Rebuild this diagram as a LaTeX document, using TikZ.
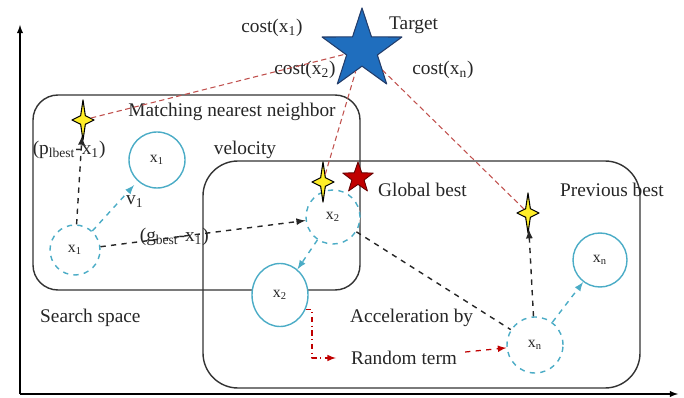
\documentclass[tikz,border=0pt]{standalone}
\usepackage{fontspec}
\setmainfont{Liberation Serif}
\usetikzlibrary{shapes.geometric,calc,positioning}
\definecolor{aqua}{RGB}{75,172,198}
\definecolor{costred}{RGB}{192,80,77}
\definecolor{darkred}{RGB}{192,0,0}
\definecolor{starblue}{RGB}{31,110,190}
\definecolor{navy}{RGB}{35,60,105}
\definecolor{sparkyellow}{RGB}{255,238,40}

\begin{document}
\begin{tikzpicture}[x=0.2mm, y=-0.2mm, >=latex, line join=round,
	font=\fontsize{11}{13}\selectfont, text=black!85,
	box/.style={draw=black!80, line width=0.8pt},
	particle/.style={circle, draw=aqua, line width=0.8pt, fill=white, inner sep=0pt, minimum size=11mm, font=\fontsize{9}{10}\selectfont},
	ghost/.style={particle, dashed},
	sparkle/.style={star, star points=4, star point ratio=3.3, draw=black, fill=sparkyellow, line width=0.6pt, minimum size=8mm, inner sep=0pt},
	blackdash/.style={dashed, line width=0.8pt, black!85},
	aquadash/.style={dashed, line width=0.8pt, aqua},
	costline/.style={costred, line width=0.6pt, dash pattern=on 3pt off 2pt},
	randline/.style={darkred, line width=0.7pt}]
	\useasboundingbox (0,0) rectangle (684,398);
	% axes
	\draw[->, line width=0.6pt] (20,394) -- (20,25);
	\draw[->, line width=0.6pt] (20,394) -- (678,394);
	% the two regions
	\draw[box, rounded corners=5mm] (33,95) rectangle (360,290);
	\draw[box, rounded corners=7mm] (203,161) rectangle (640,388);
	% particles
	\node[ghost, minimum size=10mm] (x1d) at (75,250) {x\textsubscript{1}};
	\node[particle, minimum size=11.2mm] (x1s) at (157,160) {x\textsubscript{1}};
	\node[ghost, minimum size=10.8mm] (x2d) at (333,217) {x\textsubscript{2}};
	\node[particle, ellipse, minimum width=11.2mm, minimum height=12.6mm] (x2s) at (280,295) {x\textsubscript{2}};
	\node[ghost, minimum size=11.2mm] (xnd) at (535,345) {x\textsubscript{n}};
	\node[particle, minimum size=10.8mm] (xns) at (600,260) {x\textsubscript{n}};
	% stars
	\node[star, star points=5, star point ratio=2.6, minimum size=16.8mm, inner sep=0pt, fill=starblue, draw=navy, line width=0.6pt] (target) at (362,50) {};
	\node[star, star points=5, star point ratio=2.5, minimum size=6.4mm, inner sep=0pt, fill=darkred, draw=black!60!red, line width=0.5pt] (gbest) at (358,178) {};
	\foreach \n/\x/\y in {s1/83/120, s2/323/182, s3/528/213}{
		\begin{scope}[shift={(\x,\y)}, xscale=0.55]
			\node[sparkle, transform shape] (\n) at (0,0) {};
		\end{scope}}
	% texts
	\node (targetlbl) [anchor=west] at (383,25) {Target};
	\node (cost1) at (272,28) {cost(x\textsubscript{1})};
	\node (cost2) at (305,70) {cost(x\textsubscript{2})};
	\node (costn) at (443,70) {cost(x\textsubscript{n})};
	\node (match) at (232,112) {Matching nearest neighbor};
	\node (velo) at (245,150) {velocity};
	\node (glob) [anchor=west] at (372,190) {Global best};
	\node (prev) [anchor=west] at (554,190) {Previous best};
	\node (search) [anchor=west] at (34,318) {Search space};
	\node (accel) [anchor=west] at (344,318) {Acceleration by};
	\node (rand) [anchor=west] at (345,358) {Random term};
	% connectors
	\draw[costline] (s1) -- (target);
	\draw[costline] (s2) -- (target);
	\draw[costline] (s3) -- (target);
	\draw[blackdash, ->] (x1d) -- node[pos=0.84, xshift=-2.4mm] (plbl) {(p\textsubscript{lbest}-x\textsubscript{1})} (s1);
	\draw[aquadash, ->, shorten >=3pt] (x1d) -- node[pos=0.6, right, text=black!85] (vlbl) {v\textsubscript{1}} (x1s);
	\draw[blackdash, ->] (x1d) -- node[pos=0.36] (glbl) {(g\textsubscript{best}-x\textsubscript{1})} (x2d);
	\draw[aquadash, ->] (x2d) -- (x2s);
	\draw[blackdash] (x2d) -- (xnd);
	\draw[blackdash, ->] (xnd) -- (s3);
	\draw[aquadash, ->] (xnd) -- (xns);
	\draw[randline, dash dot, ->] (x2s.-30) -| ($(rand.west)+(-33,0)$) -- ($(rand.west)+(-9,0)$);
	\draw[randline, dashed, ->] ($(rand.east)+(2,-6)$) -- (xnd);
\end{tikzpicture}
\end{document}
